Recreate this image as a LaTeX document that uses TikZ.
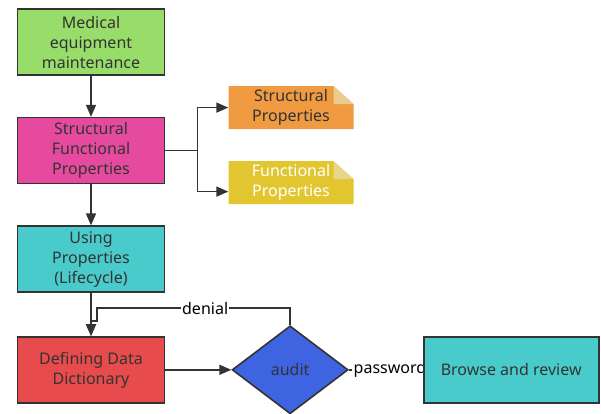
\documentclass[tikz,border=0pt]{standalone}
\usepackage{fontspec}
\setmainfont{Noto Sans}
\usepackage{tikz}
\usetikzlibrary{positioning}
\usetikzlibrary{shapes,arrows.meta}
\definecolor{medgreen}{HTML}{98DC6A}
\definecolor{sfpink}{HTML}{E64A9E}
\definecolor{usecyan}{HTML}{4ACBCB}
\definecolor{dictred}{HTML}{E84B4B}
\definecolor{auditblue}{HTML}{3F64E2}
\definecolor{structorange}{HTML}{F09A42}
\definecolor{foldtan}{HTML}{E9CD90}
\definecolor{funcyellow}{HTML}{E2C630}
\definecolor{foldpale}{HTML}{E8D58C}
\definecolor{textgray}{HTML}{333333}
\pgfdeclarelayer{bg}
\pgfsetlayers{bg,main}
\tikzstyle{block} = [rectangle, draw=textgray, line width=1.6pt, text=textgray,
    align=center, minimum width=147pt, minimum height=66pt, inner sep=2pt]
\tikzstyle{decision} = [diamond, draw=textgray, line width=1.6pt, fill=auditblue,
    text=textgray, minimum width=116pt, minimum height=88pt, inner sep=0pt]
\tikzstyle{line} = [draw=textgray, line width=1.6pt, -{Triangle[length=12pt,width=10pt]}]
\tikzset{note/.style 2 args={rectangle, fill=white, align=center, text=textgray,
    minimum width=125pt, minimum height=43pt, inner sep=1pt,
    path picture={
      \fill[#1] (path picture bounding box.south west) -- (path picture bounding box.north west)
        -- ([xshift=-20pt]path picture bounding box.north east)
        -- ([yshift=-18pt]path picture bounding box.north east)
        -- (path picture bounding box.south east) -- cycle;
      \fill[#2] ([xshift=-20pt]path picture bounding box.north east)
        -- ([xshift=-20pt,yshift=-18pt]path picture bounding box.north east)
        -- ([yshift=-18pt]path picture bounding box.north east) -- cycle;
    }}}

\begin{document}
\begin{tikzpicture}[x=1pt, y=-1pt, font=\fontsize{16}{20}\selectfont]
        \useasboundingbox (0,0) rectangle (601,413);
        % nodes
        \node [block, fill=medgreen] (mem) at (91,42) {Medical\\equipment\\maintenance};
        \node [block, fill=sfpink, below=41pt of mem] (sfp) {Structural\\Functional\\Properties};
        \node [block, fill=usecyan, below=41pt of sfp] (use) {Using\\Properties\\(Lifecycle)};
        \node [block, fill=dictred, below=43pt of use] (dict) {Defining Data\\Dictionary};
        \node [decision, right=66pt of dict] (audit) {audit};
        \node [block, fill=usecyan, minimum width=175pt, minimum height=66pt, right=74pt of audit] (browse) {Browse and review};
        \node [note={structorange}{foldtan}, right=63pt of sfp, yshift=43pt] (str) {Structural\\Properties};
        \node [note={funcyellow}{foldpale}, text=white, right=63pt of sfp, yshift=-32pt] (fun) {Functional\\Properties};
        % edges
        \begin{pgfonlayer}{bg}
        \path [line] (mem) -- (sfp);
        \path [line] (sfp) -- (use);
        \path [line] (use) -- (dict);
        \path [line] (sfp.east) -- ++(32pt,0) |- (str.west);
        \path [line] (sfp.east) -- ++(32pt,0) |- ([yshift=-9pt]fun.west);
        \path [line] (dict) -- (audit);
        \path [line] (audit.north) |- node[pos=0.72, fill=white, inner sep=1pt]{denial}
            ([xshift=6pt,yshift=28pt]dict.north) -- ([xshift=6pt,yshift=15pt]dict.north)
            -- ([yshift=15pt]dict.north) -- (dict.north);
        \path [line] (audit) -- node[pos=0, anchor=west, fill=white, inner sep=2pt, xshift=2pt]{password} (browse);
        \end{pgfonlayer}
    \end{tikzpicture}
\end{document}
